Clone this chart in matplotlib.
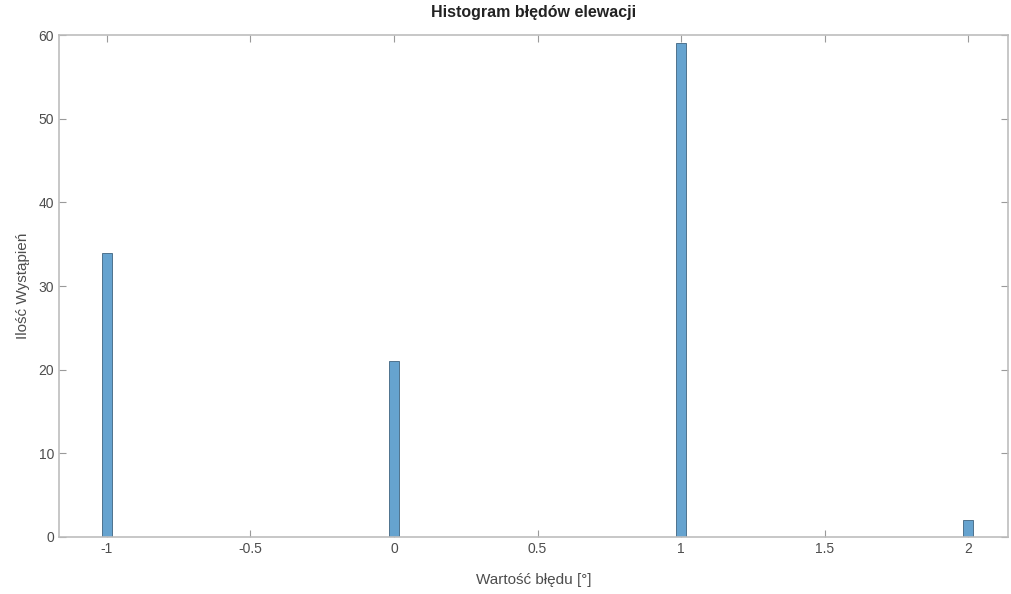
import matplotlib
matplotlib.use("Agg")
import matplotlib.pyplot as plt

# Elevation error histogram data
error_values = [-1, 0, 1, 2]
counts = [34, 21, 59, 2]
bin_width = 0.035

x_ticks = [-1, -0.5, 0, 0.5, 1, 1.5, 2]
x_tick_labels = ["-1", "-0.5", "0", "0.5", "1", "1.5", "2"]
y_ticks = [0, 10, 20, 30, 40, 50, 60]

plt.rcParams["font.family"] = ["Liberation Sans", "DejaVu Sans"]

fig = plt.figure(figsize=(10.11, 5.94), dpi=100)
ax = fig.add_axes([0.0584, 0.096, 0.9386, 0.845])

ax.bar(error_values, counts, width=bin_width, color="#66a3cf",
       edgecolor="#3f6480", linewidth=0.6, align="center", zorder=2)

ax.set_xlim(-1.167, 2.139)
ax.set_ylim(0, 60)
ax.set_xticks(x_ticks)
ax.set_xticklabels(x_tick_labels)
ax.set_yticks(y_ticks)

for spine in ax.spines.values():
    spine.set_color("#bdbdbd")
    spine.set_linewidth(1.2)

ax.tick_params(direction="in", length=5, width=0.8, color="#9a9a9a",
               labelcolor="#4d4d4d", labelsize=10, top=True, right=True)

ax.set_title("Histogram błędów elewacji", fontsize=11.5, fontweight="bold",
             color="#222222", pad=13)
ax.set_xlabel("Wartość błędu [°]", fontsize=11, color="#4d4d4d", labelpad=12)
ax.set_ylabel("Ilość Wystąpień", fontsize=11, color="#4d4d4d", labelpad=6)

fig.savefig("out.png", dpi=100)
